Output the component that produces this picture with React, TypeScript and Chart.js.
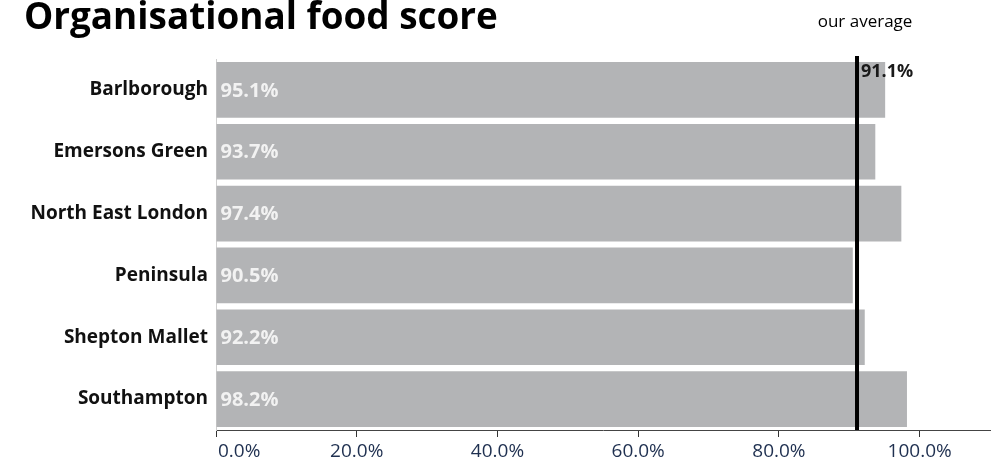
import React, { useEffect, useRef } from "react";
import { Chart, registerables } from "chart.js";

Chart.register(...registerables);

const categories = ["Barlborough", "Emersons Green", "North East London", "Peninsula", "Shepton Mallet", "Southampton"];
const scores = [95.1, 93.7, 97.4, 90.5, 92.2, 98.2];
const averageValue = 91.1;
const xTicks = [0, 20, 40, 60, 80, 100];
const titleText = "Organisational food score";
const averageLabel = "our average";

const FONT = "'Open Sans', 'DejaVu Sans', sans-serif";

const overlayPlugin = {
  id: "overlay",
  afterDatasetsDraw(chart: any) {
    const ctx = chart.ctx;
    const xs = chart.scales.x;
    const area = chart.chartArea;
    const meta = chart.getDatasetMeta(0);
    ctx.save();
    // value labels inside bars
    ctx.font = `bold 20px ${FONT}`;
    ctx.fillStyle = "#f2f2f2";
    ctx.textAlign = "left";
    ctx.textBaseline = "middle";
    meta.data.forEach((bar: any, i: number) => {
      ctx.fillText(scores[i].toFixed(1) + "%", bar.base + 4, bar.y + 1);
    });
    // average line
    const ax = xs.getPixelForValue(averageValue);
    ctx.strokeStyle = "#000";
    ctx.lineWidth = 4;
    ctx.beginPath();
    ctx.moveTo(ax, area.top - 3);
    ctx.lineTo(ax, area.bottom);
    ctx.stroke();
    ctx.font = `bold 18px ${FONT}`;
    ctx.fillStyle = "#1a1a1a";
    ctx.textBaseline = "middle";
    ctx.fillText(averageValue.toFixed(1) + "%", ax + 4, area.top + 13);
    ctx.font = `17px ${FONT}`;
    ctx.fillStyle = "#000";
    ctx.textAlign = "center";
    ctx.fillText(averageLabel, ax + 8, 22);
    // title
    ctx.font = `bold 33px ${FONT}`;
    ctx.textAlign = "left";
    ctx.textBaseline = "alphabetic";
    ctx.fillStyle = "#000";
    const w = ctx.measureText(titleText).width;
    const size = Math.min(37, 33 * 474 / w);
    ctx.font = `bold ${size}px ${FONT}`;
    ctx.fillText(titleText, 24, 29);
    // x tick labels
    ctx.font = `19px ${FONT}`;
    ctx.fillStyle = "#1f3050";
    ctx.textBaseline = "middle";
    xTicks.forEach((t, i) => {
      const px = xs.getPixelForValue(t);
      if (i === 0) {
        ctx.textAlign = "left";
        ctx.fillText(t.toFixed(1) + "%", px + 2, 452);
      } else {
        ctx.textAlign = "center";
        ctx.fillText(t.toFixed(1) + "%", px, 452);
      }
    });
    ctx.restore();
  },
};

export default function App() {
  const ref = useRef<HTMLCanvasElement | null>(null);
  useEffect(() => {
    document.body.style.margin = "0";
    const chart = new Chart(ref.current as HTMLCanvasElement, {
      type: "bar",
      data: {
        labels: categories,
        datasets: [
          {
            data: scores,
            backgroundColor: "#b3b4b6",
            borderWidth: 0,
            categoryPercentage: 1,
            barPercentage: 0.9,
          },
        ],
      },
      options: {
        indexAxis: "y",
        animation: false,
        responsive: false,
        maintainAspectRatio: false,
        layout: { padding: { top: 59, right: 12, left: 0, bottom: 0 } },
        plugins: { legend: { display: false }, tooltip: { enabled: false }, title: { display: false } },
        scales: {
          x: {
            min: 0,
            max: 110,
            afterBuildTicks: (scale: any) => {
              scale.ticks = xTicks.map((v) => ({ value: v }));
            },
            afterFit: (scale: any) => {
              scale.height = 37;
            },
            grid: { display: true, drawOnChartArea: false, drawTicks: true, tickLength: 7, color: "#333" },
            border: { display: true, color: "#444", width: 1 },
            ticks: { display: false },
          },
          y: {
            afterFit: (scale: any) => {
              scale.width = 216;
            },
            grid: { display: false, drawTicks: false },
            border: { display: true, color: "#cfcfcf", width: 1 },
            ticks: {
              padding: 8,
              color: "#111",
              font: { family: FONT, size: 19, weight: "bold" },
            },
          },
        },
      },
      plugins: [overlayPlugin],
    } as any);
    return () => chart.destroy();
  }, []);
  return (
    <div style={{ position: "relative", width: 1002, height: 467, background: "#fff" }}>
      <canvas ref={ref} width={1002} height={467} style={{ display: "block" }} />
    </div>
  );
}
